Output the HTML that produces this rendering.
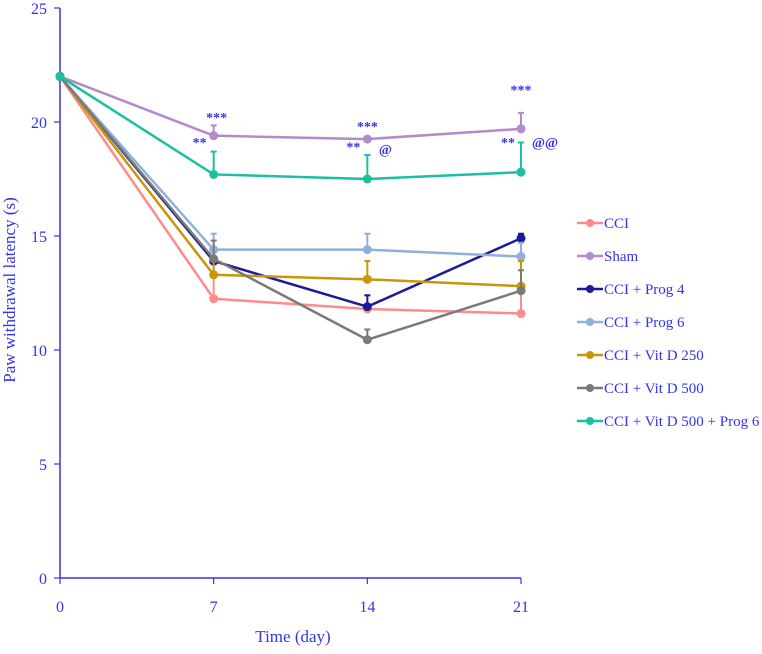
<!DOCTYPE html>
<html><head><meta charset="utf-8"><style>
body{margin:0;background:#fff}
svg text{font-family:"Liberation Serif",serif;fill:#3333ee}
</style></head><body>
<svg id="chart" width="762" height="649" xmlns="http://www.w3.org/2000/svg">
<g id="axes"></g><g id="series"></g><g id="legend"></g>
</svg>
<script>
const days=[0,7,14,21];
const yTicks=[0,5,10,15,20,25];
const seriesNames=["CCI","Sham","CCI + Prog 4","CCI + Prog 6","CCI + Vit D 250","CCI + Vit D 500","CCI + Vit D 500 + Prog 6"];
const seriesColors=["#ff8a8a","#b48ac8","#1a1a9a","#8fb0d8","#c8960a","#7a7a7a","#1cbfa0"];
const cciVals=[22,12.25,11.8,11.6];
const shamVals=[22,19.4,19.25,19.7];
const prog4Vals=[22,13.9,11.9,14.9];
const prog6Vals=[22,14.4,14.4,14.1];
const vitd250Vals=[22,13.3,13.1,12.8];
const vitd500Vals=[22,14.0,10.45,12.6];
const comboVals=[22,17.7,17.5,17.8];
const cciErr=[0,1.5,0.6,0.9];
const shamErr=[0,0.45,0,0.7];
const prog4Err=[0,0.4,0.5,0.2];
const prog6Err=[0,0.7,0.7,0.6];
const vitd250Err=[0,0.6,0.8,1.1];
const vitd500Err=[0,0.8,0.45,0.9];
const comboErr=[0,1.0,1.05,1.3];
const allVals=[cciVals,shamVals,prog4Vals,prog6Vals,vitd250Vals,vitd500Vals,comboVals];
const allErr=[cciErr,shamErr,prog4Err,prog6Err,vitd250Err,vitd500Err,comboErr];
const annotLabels=["***","***","***","**","**","**","@","@@"];
const annotDay=[7,14,21,7,14,21,14,21];
const annotVal=[20.0,19.6,21.2,18.9,18.7,18.9,18.6,18.9];
const annotDx=[3,0,0,-14,-14,-13,18,24];

const NS="http://www.w3.org/2000/svg";
const X=d=>60+d*(461/21);
const Y=v=>578-v*22.8;
function mk(tag,attrs,parent,txt){const e=document.createElementNS(NS,tag);for(const k in attrs)e.setAttribute(k,attrs[k]);if(txt!==undefined)e.textContent=txt;parent.appendChild(e);return e;}
const axes=document.getElementById('axes'),ser=document.getElementById('series'),leg=document.getElementById('legend');
const blue="#3333ee";
let e;
e=mk('line',{x1:60,y1:Y(25),x2:60,y2:Y(0),stroke:blue,'stroke-width':1.5},axes);

e=mk('line',{x1:60,y1:Y(0),x2:X(21),y2:Y(0),stroke:blue,'stroke-width':1.5},axes);

yTicks.forEach(t=>{
  mk('line',{x1:54,y1:Y(t),x2:60,y2:Y(t),stroke:blue,'stroke-width':1.2},axes);
  e=mk('text',{x:47,y:Y(t)+6,'text-anchor':'end','font-size':16},axes,t);
  
});
days.forEach(d=>{
  mk('line',{x1:X(d),y1:Y(0),x2:X(d),y2:Y(0)+6,stroke:blue,'stroke-width':1.2},axes);
  e=mk('text',{x:X(d),y:612,'text-anchor':'middle','font-size':16},axes,d);
  
});
e=mk('text',{x:293,y:642,'text-anchor':'middle','font-size':17},axes,"Time  (day)");

e=mk('text',{x:0,y:0,'text-anchor':'middle','font-size':17,transform:'translate(15,290) rotate(-90)'},axes,"Paw  withdrawal  latency  (s)");


allVals.forEach((vals,i)=>{
  const c=seriesColors[i];
  const g=mk('g',{},ser);
  
  
  vals.forEach((v,j)=>{const er=allErr[i][j];if(er>0){
    mk('line',{x1:X(days[j]),y1:Y(v),x2:X(days[j]),y2:Y(v+er),stroke:c,'stroke-width':2},g);
    mk('line',{x1:X(days[j])-3,y1:Y(v+er),x2:X(days[j])+3,y2:Y(v+er),stroke:c,'stroke-width':2},g);}});
  e=mk('polyline',{points:vals.map((v,j)=>X(days[j])+','+Y(v)).join(' '),fill:'none',stroke:c,'stroke-width':2.5},g);
  
  vals.forEach((v,j)=>{e=mk('circle',{cx:X(days[j]),cy:Y(v),r:4.5,fill:c},g);
    });
});
annotLabels.forEach((t,i)=>{
  e=mk('text',{x:X(annotDay[i])+annotDx[i],y:Y(annotVal[i]),'text-anchor':'middle','font-size':14,'font-weight':'bold'},ser,t);
  
});
seriesNames.forEach((n,i)=>{
  const y=223+i*33;
  const g=mk('g',{},leg);
  
  
  mk('line',{x1:577,y1:y,x2:603,y2:y,stroke:seriesColors[i],'stroke-width':2.5},g);
  mk('circle',{cx:590,cy:y,r:4,fill:seriesColors[i]},g);
  mk('text',{x:604,y:y+5,'font-size':15},g,n);
});
</script>
</body></html>
